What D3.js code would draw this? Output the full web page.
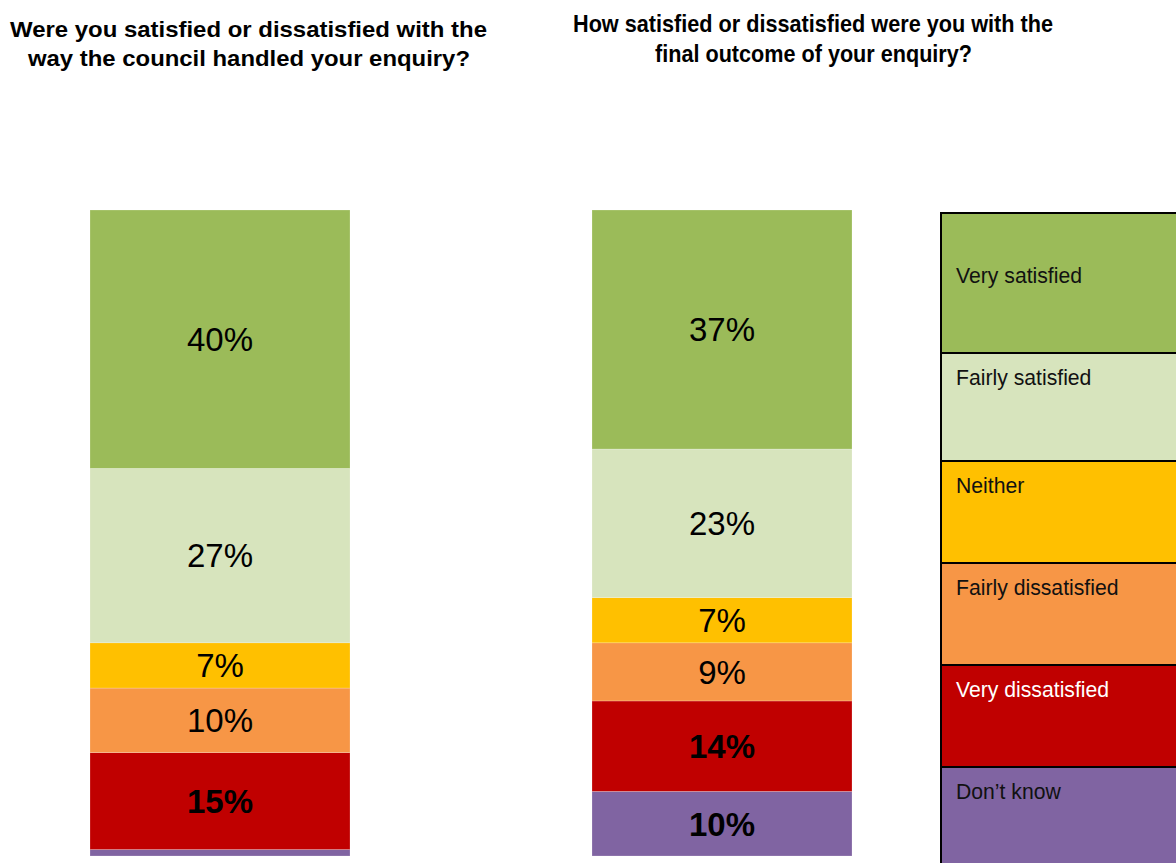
<!DOCTYPE html>
<html>
<head>
<meta charset="utf-8">
<script src="https://cdn.jsdelivr.net/npm/d3@7"></script>
<style>
  html, body { margin: 0; padding: 0; background: #fff; }
  svg { display: block; }
</style>
</head>
<body>
<svg id="chart" width="1176" height="863"></svg>
<script>
// ---- DATA ----
const categories = ["Very satisfied", "Fairly satisfied", "Neither", "Fairly dissatisfied", "Very dissatisfied", "Don\u2019t know"];
const questions = ["handled", "outcome"];
const handledValues = [40, 27, 7, 10, 15, 1];
const outcomeValues = [37, 23, 7, 9, 14, 10];
const titleHandled = ["Were you satisfied or dissatisfied with the", "way the council handled your enquiry?"];
const titleOutcome = ["How satisfied or dissatisfied were you with the", "final outcome of your enquiry?"];
const colors = ["#9BBB59", "#D7E4BD", "#FFC000", "#F79646", "#C00000", "#8064A2"];
const boldLabel = [false, false, false, false, true, true];
const legendTextColors = ["#111", "#111", "#111", "#111", "#fff", "#111"];

// ---- LAYOUT ----
const svg = d3.select("#chart");

const x = d3.scaleBand().domain(questions).range([90, 852]).paddingInner(242 / 502).paddingOuter(0);
const y = d3.scaleLinear().domain([0, 100]).range([856, 210]);

const seriesByQ = { handled: handledValues, outcome: outcomeValues };

questions.forEach(q => {
  const vals = seriesByQ[q];
  // stack from bottom: last category (Don't know) at the bottom
  let cum = 0;
  const segs = vals.map((v, i) => i).reverse().map(i => {
    const s = { q, i, v: vals[i], y0: cum, y1: cum + vals[i] };
    cum += vals[i];
    return s;
  });
  const g = svg.append("g");
  g.selectAll("rect").data(segs).join("rect")
    .attr("x", x(q))
    .attr("width", x.bandwidth())
    .attr("y", d => y(d.y1))
    .attr("height", d => y(d.y0) - y(d.y1))
    .attr("fill", d => colors[d.i])
    .attr("stroke", "#ffffff")
    .attr("stroke-opacity", 0.35)
    .attr("stroke-width", 0.6);
  g.selectAll("text").data(segs.filter(d => d.v >= 5)).join("text")
    .attr("x", x(q) + x.bandwidth() / 2)
    .attr("y", d => (y(d.y0) + y(d.y1)) / 2)
    .attr("dy", "0.36em")
    .attr("text-anchor", "middle")
    .attr("font-family", "Liberation Sans, Arial, sans-serif")
    .attr("font-size", 33)
    .attr("font-weight", d => boldLabel[d.i] ? "bold" : "normal")
    .attr("fill", "#000")
    .text(d => d.v + "%");
});

// ---- TITLES ----
const t1 = svg.append("text")
  .attr("font-family", "Liberation Sans, Arial, sans-serif")
  .attr("font-weight", "bold")
  .attr("font-size", 22)
  .attr("fill", "#000")
  .attr("text-anchor", "middle");
t1.append("tspan").attr("x", 248.5).attr("y", 37).attr("textLength", 477).attr("lengthAdjust", "spacingAndGlyphs").text(titleHandled[0]);
t1.append("tspan").attr("x", 249).attr("y", 66).attr("textLength", 442).attr("lengthAdjust", "spacingAndGlyphs").text(titleHandled[1]);

const t2 = svg.append("text")
  .attr("font-family", "Liberation Sans Narrow, Arial Narrow, Liberation Sans, sans-serif")
  .attr("font-weight", "bold")
  .attr("font-size", 24)
  .attr("fill", "#000")
  .attr("text-anchor", "middle");
t2.append("tspan").attr("x", 813).attr("y", 32).attr("textLength", 480).attr("lengthAdjust", "spacingAndGlyphs").text(titleOutcome[0]);
t2.append("tspan").attr("x", 813.5).attr("y", 62).attr("textLength", 317).attr("lengthAdjust", "spacingAndGlyphs").text(titleOutcome[1]);

// ---- LEGEND ----
const legendX = 941, legendW = 260;
const rowEdges = [213, 353, 461, 563, 665, 767, 880];
const lg = svg.append("g");
categories.forEach((c, i) => {
  lg.append("rect")
    .attr("x", legendX)
    .attr("y", rowEdges[i])
    .attr("width", legendW)
    .attr("height", rowEdges[i + 1] - rowEdges[i])
    .attr("fill", colors[i])
    .attr("stroke", "#000")
    .attr("stroke-width", 2);
  lg.append("text")
    .attr("x", 956)
    .attr("y", rowEdges[i] + (i === 0 ? 70 : 32))
    .attr("font-family", "Liberation Sans, Arial, sans-serif")
    .attr("font-size", 21.2)
    .attr("fill", legendTextColors[i])
    .text(c);
});
</script>
</body>
</html>
